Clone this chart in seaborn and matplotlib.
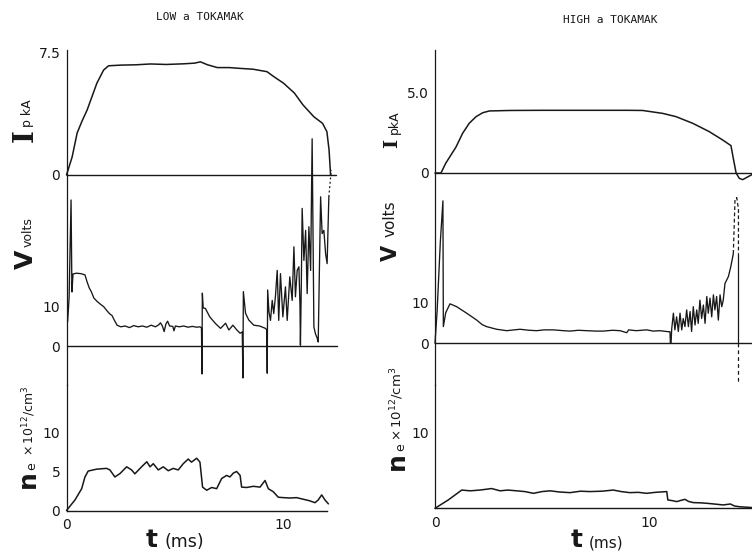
import matplotlib
matplotlib.use("Agg")
import matplotlib.pyplot as plt
import seaborn as sns
import pandas as pd

# ---------------- data ----------------
# LOW a TOKAMAK
low_ip_t = [0.0, 0.26, 0.49, 0.72, 0.95, 1.18, 1.4, 1.71, 1.94, 2.5, 3.2, 3.87, 4.6, 5.4, 5.9, 6.17,
            6.5, 6.95, 7.5, 8.0, 8.6, 9.24, 9.55, 10.0, 10.5, 10.9, 11.4, 11.8, 12.0, 12.1, 12.17]
low_ip = [0.0, 1.1, 2.56, 3.3, 3.96, 4.8, 5.6, 6.4, 6.66, 6.7, 6.72, 6.77, 6.74, 6.78, 6.82, 6.9,
          6.72, 6.55, 6.55, 6.5, 6.45, 6.3, 6.0, 5.6, 5.0, 4.27, 3.55, 3.15, 2.64, 1.52, 0.0]

low_v_t = [0.05, 0.12, 0.21, 0.25, 0.30, 0.45, 0.65, 0.85, 0.95, 1.05, 1.15, 1.26, 1.4, 1.55, 1.72,
           1.85, 2.0, 2.1, 2.2, 2.33, 2.5, 2.7, 2.9, 3.1, 3.3, 3.5, 3.7, 3.9, 4.1, 4.25, 4.33, 4.42,
           4.5, 4.58, 4.66, 4.75, 4.9, 4.95, 5.02, 5.2, 5.4, 5.6, 5.8, 6.0, 6.15, 6.22, 6.24, 6.26,
           6.3, 6.4, 6.6, 6.85, 7.1, 7.33, 7.48, 7.67, 7.85, 8.0, 8.1, 8.13, 8.15, 8.25, 8.4, 8.63,
           8.9, 9.17, 9.23, 9.25, 9.27, 9.33, 9.40, 9.48, 9.55, 9.63, 9.71, 9.78, 9.86, 9.97, 10.09,
           10.17, 10.29, 10.40, 10.48, 10.55, 10.63, 10.71, 10.76, 10.78, 10.82, 10.86, 10.94, 11.02,
           11.09, 11.17, 11.25, 11.32, 11.40, 11.47, 11.55, 11.60, 11.71, 11.78, 11.86, 11.94, 12.01,
           12.09]
low_v = [6.0, 12.0, 36.5, 13.5, 18.0, 18.2, 18.1, 17.8, 16.0, 14.5, 13.5, 12.0, 11.2, 10.5, 9.8,
         8.9, 8.0, 7.6, 6.5, 5.2, 4.8, 5.0, 4.6, 5.1, 4.8, 5.0, 4.7, 5.2, 4.8, 5.3, 5.8, 5.0,
         3.6, 5.5, 6.2, 5.0, 4.9, 3.8, 5.0, 4.8, 5.0, 4.7, 4.9, 4.7, 4.8, 4.5, -7.0, 13.2,
         9.5, 9.4, 7.3, 5.7, 4.4, 5.7, 4.0, 5.2, 4.0, 3.2, 3.5, -8.0, 13.6, 8.2, 6.5, 5.2,
         5.0, 4.4, 4.0, -6.8, 14.0, 8.5, 6.4, 11.4, 8.1, 12.5, 18.9, 6.4, 18.1, 7.3, 14.8,
         6.4, 17.3, 11.4, 24.8, 12.3, 18.9, 19.8, 10.0, 0.2, 15.0, 34.4, 21.4, 28.9,
         13.1, 29.8, 18.9, 51.8, 4.8, 3.1, 2.0, 1.0, 37.3, 28.1, 28.9, 23.1, 20.6,
         37.3]
low_v_tail_t = [12.09, 12.2]
low_v_tail = [37.3, 44.0]

low_ne_t = [0.0, 0.39, 0.70, 0.85, 1.0, 1.39, 1.85, 2.0, 2.23, 2.47, 2.77, 3.0, 3.15, 3.46, 3.70,
            3.85, 4.0, 4.23, 4.46, 4.69, 4.92, 5.15, 5.38, 5.61, 5.76, 6.0, 6.15, 6.27, 6.46, 6.69,
            6.92, 7.15, 7.38, 7.53, 7.69, 7.84, 8.0, 8.07, 8.3, 8.61, 8.92, 9.15, 9.3, 9.53, 9.76,
            9.99, 10.3, 10.6, 10.9, 11.2, 11.45, 11.6, 11.76, 11.91, 12.07]
low_ne = [0.0, 1.35, 2.8, 4.3, 5.06, 5.3, 5.4, 5.2, 4.3, 4.75, 5.6, 5.2, 4.7, 5.6, 6.25,
          5.6, 6.0, 5.2, 5.6, 5.1, 5.4, 5.2, 6.0, 6.6, 6.2, 6.7, 6.2, 3.0, 2.6, 2.95,
          2.8, 4.1, 4.5, 4.3, 4.8, 5.0, 4.5, 3.0, 2.95, 3.1, 3.0, 3.85, 2.8, 2.4, 1.7,
          1.65, 1.6, 1.65, 1.45, 1.25, 1.0, 1.35, 2.0, 1.35, 0.85]

# HIGH a TOKAMAK
high_ip_t = [0.0, 0.28, 0.5, 0.98, 1.29, 1.6, 1.92, 2.23, 2.54, 3.5, 5.0, 7.0, 9.0, 9.7, 10.64,
             11.26, 12.04, 12.82, 13.44, 13.83, 13.94, 14.07, 14.22, 14.38, 14.6, 14.81]
high_ip = [0.0, 0.0, 0.6, 1.6, 2.45, 3.07, 3.48, 3.72, 3.83, 3.86, 3.87, 3.87, 3.87, 3.86, 3.68,
           3.48, 3.07, 2.55, 2.04, 1.69, 0.9, 0.0, -0.33, -0.41, -0.25, -0.1]

high_v_t = [0.0, 0.1, 0.25, 0.37, 0.39, 0.5, 0.70, 1.01, 1.48, 1.95, 2.2, 2.41, 2.88, 3.35, 3.97,
            4.4, 4.75, 5.1, 5.53, 6.0, 6.31, 6.7, 7.09, 7.5, 7.87, 8.3, 8.65, 8.96, 9.05, 9.4,
            9.89, 10.2, 10.5, 10.9, 10.98, 11.0, 11.03, 11.06, 11.14, 11.21, 11.29, 11.37, 11.45,
            11.53, 11.60, 11.68, 11.76, 11.84, 11.92, 11.99, 12.07, 12.15, 12.23, 12.30, 12.38,
            12.46, 12.54, 12.62, 12.70, 12.77, 12.85, 12.93, 13.01, 13.08, 13.16, 13.24, 13.32,
            13.40, 13.47, 13.55, 13.71, 13.82, 13.94]
high_v = [0.0, 8.0, 25.0, 35.0, 4.1, 7.5, 9.7, 9.0, 7.4, 5.7, 4.6, 4.1, 3.45, 3.1, 3.45,
          3.2, 3.1, 3.3, 3.3, 3.1, 3.0, 3.2, 3.1, 3.0, 3.0, 3.2, 3.1, 2.6, 3.3, 3.1,
          3.3, 3.0, 3.1, 2.85, 2.85, 0.0, 0.0, 3.5, 7.4, 3.3, 6.5, 2.9, 7.4,
          3.3, 6.1, 4.1, 8.2, 4.1, 7.8, 2.9, 9.0, 4.5, 8.2, 4.9, 10.6,
          6.1, 9.4, 4.9, 11.5, 7.4, 11.1, 6.5, 11.9, 8.2, 11.5, 5.7, 11.9,
          9.0, 10.6, 14.7, 16.4, 18.8, 22.0]
high_v_peak_t = [13.94, 14.02, 14.1, 14.18, 14.18]
high_v_peak = [22.0, 35.5, 35.8, 33.0, 22.0]
high_v_fall_t = [14.18, 14.18]
high_v_fall = [22.0, 0.0]
high_v_under_t = [14.18, 14.18]
high_v_under = [0.0, -9.4]

high_ne_t = [0.0, 0.62, 1.25, 1.64, 2.1, 2.65, 3.04, 3.4, 3.82, 4.2, 4.6, 5.0, 5.38, 5.8, 6.31,
             6.8, 7.24, 7.8, 8.33, 8.7, 9.11, 9.5, 9.89, 10.3, 10.83, 10.88, 11.1, 11.3, 11.5,
             11.68, 11.85, 12.07, 12.4, 12.7, 13.1, 13.47, 13.8, 14.0, 14.25, 14.8]
high_ne = [0.0, 1.1, 2.4, 2.3, 2.4, 2.6, 2.3, 2.4, 2.3, 2.2, 1.97, 2.2, 2.3, 2.15, 2.06,
           2.25, 2.2, 2.25, 2.4, 2.2, 2.06, 2.1, 1.97, 2.1, 2.2, 1.1, 1.0, 0.88, 1.05,
           1.18, 0.9, 0.75, 0.72, 0.66, 0.55, 0.44, 0.57, 0.3, 0.2, 0.1]

# tick labels
low_ip_ticks, low_ip_labels = [0, 7.5], ["0", "7.5"]
high_ip_ticks, high_ip_labels = [0, 5.0], ["0", "5.0"]
v_ticks, v_labels = [0, 10], ["0", "10"]
low_ne_ticks, low_ne_labels = [0, 5, 10], ["0", "5", "10"]
high_ne_ticks, high_ne_labels = [10], ["10"]
t_ticks, t_labels = [0, 10], ["0", "10"]

# ---------------- figure ----------------
sns.set_style("white")
plt.rcParams["font.family"] = ["DejaVu Sans"]
W, H = 752, 555
fig = plt.figure(figsize=(W / 100, H / 100), dpi=100)
fig.patch.set_facecolor("white")
INK = "#181818"


def rect(x0, yt, x1, yb):
    return [x0 / W, 1 - yb / H, (x1 - x0) / W, (yb - yt) / H]


def fx(x):
    return x / W


def fy(y):
    return 1 - y / H


def style(ax, xlim, ylim, yt, yl, bottom=False):
    ax.set_xlim(*xlim)
    ax.set_ylim(*ylim)
    ax.patch.set_alpha(0)
    for s in ["top", "right"]:
        ax.spines[s].set_visible(False)
    ax.spines["left"].set_color(INK)
    ax.spines["left"].set_linewidth(0.9)
    ax.set_yticks(yt)
    ax.set_yticklabels(yl)
    ax.tick_params(axis="y", direction="out", length=3, width=0.8, pad=1.5,
                   labelsize=10, colors=INK)
    if bottom:
        ax.spines["bottom"].set_color(INK)
        ax.spines["bottom"].set_linewidth(1.0)
        ax.tick_params(axis="x", direction="out", length=3, width=0.8, pad=2.5,
                       labelsize=10, colors=INK)
    else:
        ax.spines["bottom"].set_visible(False)
        ax.set_xticks([])
    ax.set_xlabel("")
    ax.set_ylabel("")


def trace(ax, t, y, ls="-", lw=1.0):
    df = pd.DataFrame({"t": t, "y": y})
    sns.lineplot(data=df, x="t", y="y", ax=ax, color=INK, lw=lw, sort=False,
                 estimator=None, legend=False, clip_on=False, linestyle=ls)


def zero_line(ax, frac=1.0):
    ax.axhline(0, xmin=0, xmax=frac, color=INK, lw=1.0, clip_on=False)


# ----- LOW column -----
lx0, lsc, lxmax = 66.5, 21.7, 12.6
lx1 = lx0 + lsc * lxmax
ax_lip = fig.add_axes(rect(lx0, 175 - 7.6 * 16.4, lx1, 175))
ax_lv = fig.add_axes(rect(lx0, 175, lx1, 385))
ax_lne = fig.add_axes(rect(lx0, 385, lx1, 510.5))

trace(ax_lip, low_ip_t, low_ip, lw=1.1)
style(ax_lip, (0, lxmax), (0, 7.6), low_ip_ticks, low_ip_labels)
zero_line(ax_lip, 12.4 / lxmax)

trace(ax_lv, low_v_t, low_v, lw=0.95)
trace(ax_lv, low_v_tail_t, low_v_tail, ls=(0, (1.5, 2)), lw=0.9)
style(ax_lv, (0, lxmax), (-(385 - 346) / 4.0, (346 - 175) / 4.0), v_ticks, v_labels)
zero_line(ax_lv, 12.45 / lxmax)

trace(ax_lne, low_ne_t, low_ne, lw=1.1)
style(ax_lne, (0, lxmax), (0, (510.5 - 385) / 7.8), low_ne_ticks, low_ne_labels, bottom=True)
ax_lne.set_xticks(t_ticks)
ax_lne.set_xticklabels(t_labels)
ax_lne.spines["bottom"].set_bounds(0, 12.0)

# ----- HIGH column -----
hx0, hsc, hxmax = 435, 21.4, 15.0
hx1 = hx0 + hsc * hxmax
ax_hip = fig.add_axes(rect(hx0, 50, hx1, 173))
ax_hv = fig.add_axes(rect(hx0, 173, hx1, 385))
ax_hne = fig.add_axes(rect(hx0, 385, hx1, 508.3))

trace(ax_hip, high_ip_t, high_ip, lw=1.1)
style(ax_hip, (0, hxmax), (0, (173 - 50) / 16.2), high_ip_ticks, high_ip_labels)
zero_line(ax_hip)

trace(ax_hv, high_v_t, high_v, lw=0.95)
trace(ax_hv, high_v_peak_t, high_v_peak, ls=(0, (3, 2)), lw=0.9)
trace(ax_hv, high_v_fall_t, high_v_fall, lw=0.9)
trace(ax_hv, high_v_under_t, high_v_under, ls=(0, (3, 2.5)), lw=0.9)
style(ax_hv, (0, hxmax), (-(385 - 343.3) / 4.07, (343.3 - 173) / 4.07), v_ticks, v_labels)
zero_line(ax_hv)

trace(ax_hne, high_ne_t, high_ne, lw=1.1)
style(ax_hne, (0, hxmax), (0, (508.3 - 385) / 7.6), high_ne_ticks, high_ne_labels, bottom=True)
ax_hne.set_xticks(t_ticks)
ax_hne.set_xticklabels(t_labels)

# ----- titles -----
mono = "DejaVu Sans Mono"
fig.text(fx(200), fy(17.5), "LOW a TOKAMAK", family=mono, fontsize=8, ha="center",
         va="center", color=INK)
fig.text(fx(610), fy(20), "HIGH a TOKAMAK", family=mono, fontsize=8, ha="center",
         va="center", color=INK)


def vtext(x, y, s, size, weight="normal", family="DejaVu Sans"):
    fig.text(fx(x), fy(y), s, rotation=90, rotation_mode="anchor", ha="center",
             va="baseline", fontsize=size, fontweight=weight, family=family, color=INK)


# left y labels
vtext(33, 135.5, "I", 20, "bold", "DejaVu Serif")
vtext(31, 113.5, "p kA", 9)
vtext(33, 259, "V", 18, "bold")
vtext(32, 232, "volts", 9)
vtext(35, 479.5, "n", 18, "bold")
vtext(35, 466, "e", 9)
vtext(34, 421, r"$\times\,10^{12}/\mathrm{cm}^{3}$", 9)

# right y labels
vtext(397, 143.5, "I", 14, "bold", "DejaVu Serif")
vtext(398, 122.5, "pkA", 9)
vtext(397, 253, "V", 15, "bold")
vtext(395, 218.5, "volts", 11)
vtext(404, 461, "n", 18, "bold")
vtext(404, 447.5, "e", 9)
vtext(402, 404, r"$\times\,10^{12}/\mathrm{cm}^{3}$", 9.5)

# x labels
fig.text(fx(152), fy(547), "t", fontsize=18, fontweight="bold", ha="center",
         va="baseline", color=INK)
fig.text(fx(164), fy(547), "(ms)", fontsize=12.5, ha="left", va="baseline", color=INK)
fig.text(fx(577), fy(547), "t", fontsize=18, fontweight="bold", ha="center",
         va="baseline", color=INK)
fig.text(fx(589), fy(547), "(ms)", fontsize=11, ha="left", va="baseline", color=INK)

fig.savefig("out.png", dpi=100, facecolor="white")
